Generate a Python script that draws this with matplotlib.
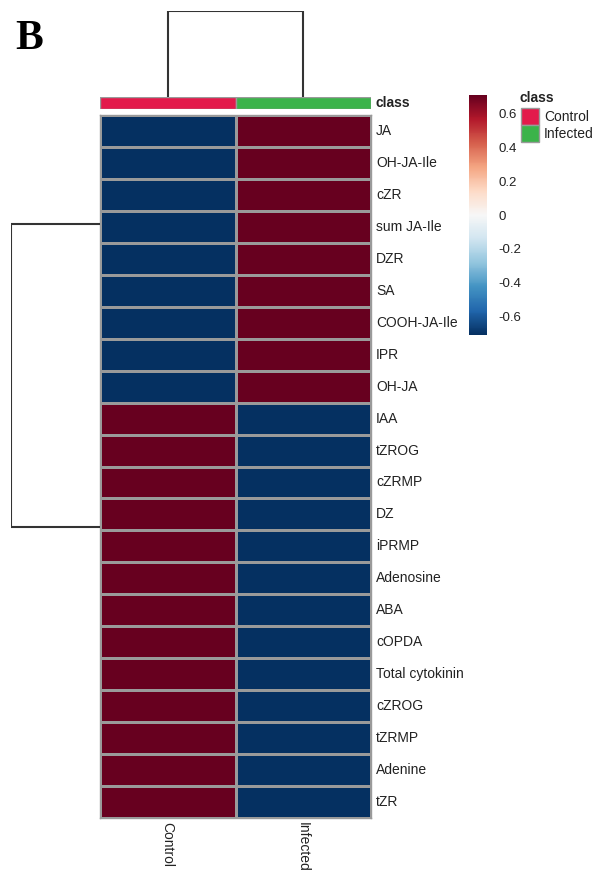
import matplotlib
matplotlib.use("Agg")
import matplotlib.pyplot as plt
import numpy as np
from matplotlib.patches import Rectangle

plt.rcParams['font.family'] = ['Liberation Sans', 'DejaVu Sans']

# features in clustered order
features = ["JA", "OH-JA-Ile", "cZR", "sum JA-Ile", "DZR", "SA", "COOH-JA-Ile",
            "IPR", "OH-JA", "IAA", "tZROG", "cZRMP", "DZ", "iPRMP", "Adenosine",
            "ABA", "cOPDA", "Total cytokinin", "cZROG", "tZRMP", "Adenine", "tZR"]
samples = ["Control", "Infected"]
# autoscaled values, Control / Infected
control = [-0.707] * 9 + [0.707] * 13
infected = [0.707] * 9 + [-0.707] * 13
class_colors = {"Control": "#E31A4B", "Infected": "#3BB34A"}
cbar_ticks = [0.6, 0.4, 0.2, 0, -0.2, -0.4, -0.6]
# dendrogram leaf positions (row units)
row_groups = [3.4, 12.9]
col_groups = [0.5, 1.5]

W, H = 605, 876
fig = plt.figure(figsize=(W / 100, H / 100), dpi=100)


def px_axes(x0, y0, x1, y1):
    return fig.add_axes([x0 / W, 1 - y1 / H, (x1 - x0) / W, (y1 - y0) / H])


grid = '#9a9a9a'
txt = '#222222'
vals = np.array([control, infected]).T
vmax = 0.707
cmap = plt.get_cmap('RdBu_r')

# heatmap
ax = px_axes(100, 115, 371, 818)
mesh = ax.pcolormesh(vals, cmap=cmap, vmin=-vmax, vmax=vmax,
                     edgecolors=grid, linewidth=1.0)
ax.set_xlim(0, len(samples))
ax.set_ylim(len(features), 0)
ax.set_xticks([])
ax.set_yticks([])
for s in ax.spines.values():
    s.set_color(grid)
    s.set_linewidth(1.0)
for i, name in enumerate(features):
    ax.text(1.0 + 5 / 271, i + 0.5, name, transform=ax.get_yaxis_transform(),
            va='center', ha='left', fontsize=10, color=txt)
for j, name in enumerate(samples):
    ax.text(j + 0.5, len(features) + 0.12, name, rotation=270,
            va='top', ha='center', fontsize=10, color=txt)

# class annotation bar
axa = px_axes(100, 97, 371, 109)
for j, name in enumerate(samples):
    axa.add_patch(Rectangle((j, 0), 1, 1, facecolor=class_colors[name],
                            edgecolor=grid, linewidth=1.0))
axa.set_xlim(0, len(samples))
axa.set_ylim(0, 1)
axa.axis('off')
axa.text(1.0 + 5 / 271, 0.5, "class", transform=axa.transAxes,
         va='center', ha='left', fontsize=10, fontweight='bold', color=txt)

# column dendrogram
axc = px_axes(100, 11, 371, 97)
axc.plot([col_groups[0], col_groups[0], col_groups[1], col_groups[1]],
         [0, 1, 1, 0], color='#333333', lw=1.5, solid_joinstyle='miter')
axc.set_xlim(0, len(samples))
axc.set_ylim(0, 1.005)
axc.axis('off')

# row dendrogram
axr = px_axes(11, 115, 100, 818)
axr.plot([0, 1, 1, 0], [row_groups[0], row_groups[0], row_groups[1], row_groups[1]],
         color='#333333', lw=1.5, solid_joinstyle='miter')
axr.set_xlim(1.005, 0)
axr.set_ylim(len(features), 0)
axr.axis('off')

# colour bar
axb = px_axes(469, 95, 487, 335)
cb = fig.colorbar(mesh, cax=axb, ticks=cbar_ticks)
cb.outline.set_visible(False)
cb.ax.set_yticklabels(["%g" % t for t in cbar_ticks])
cb.ax.tick_params(length=0, pad=8, labelsize=9.5, colors=txt)

# class legend
axl = px_axes(0, 0, W, H)
axl.set_xlim(0, W)
axl.set_ylim(H, 0)
axl.axis('off')
axl.text(520, 98, "class", fontsize=10, fontweight='bold', va='center', color=txt)
for k, name in enumerate(samples):
    axl.add_patch(Rectangle((521, 108 + 17 * k), 18, 17, facecolor=class_colors[name],
                            edgecolor=grid, linewidth=1.0))
    axl.text(544, 117 + 17 * k, name, fontsize=10, va='center', color=txt)

fig.text(15 / W, 1 - 49 / H, "B", fontsize=30, fontweight='bold',
         family='Liberation Serif', va='baseline', ha='left')

fig.savefig("out.png", dpi=100)
